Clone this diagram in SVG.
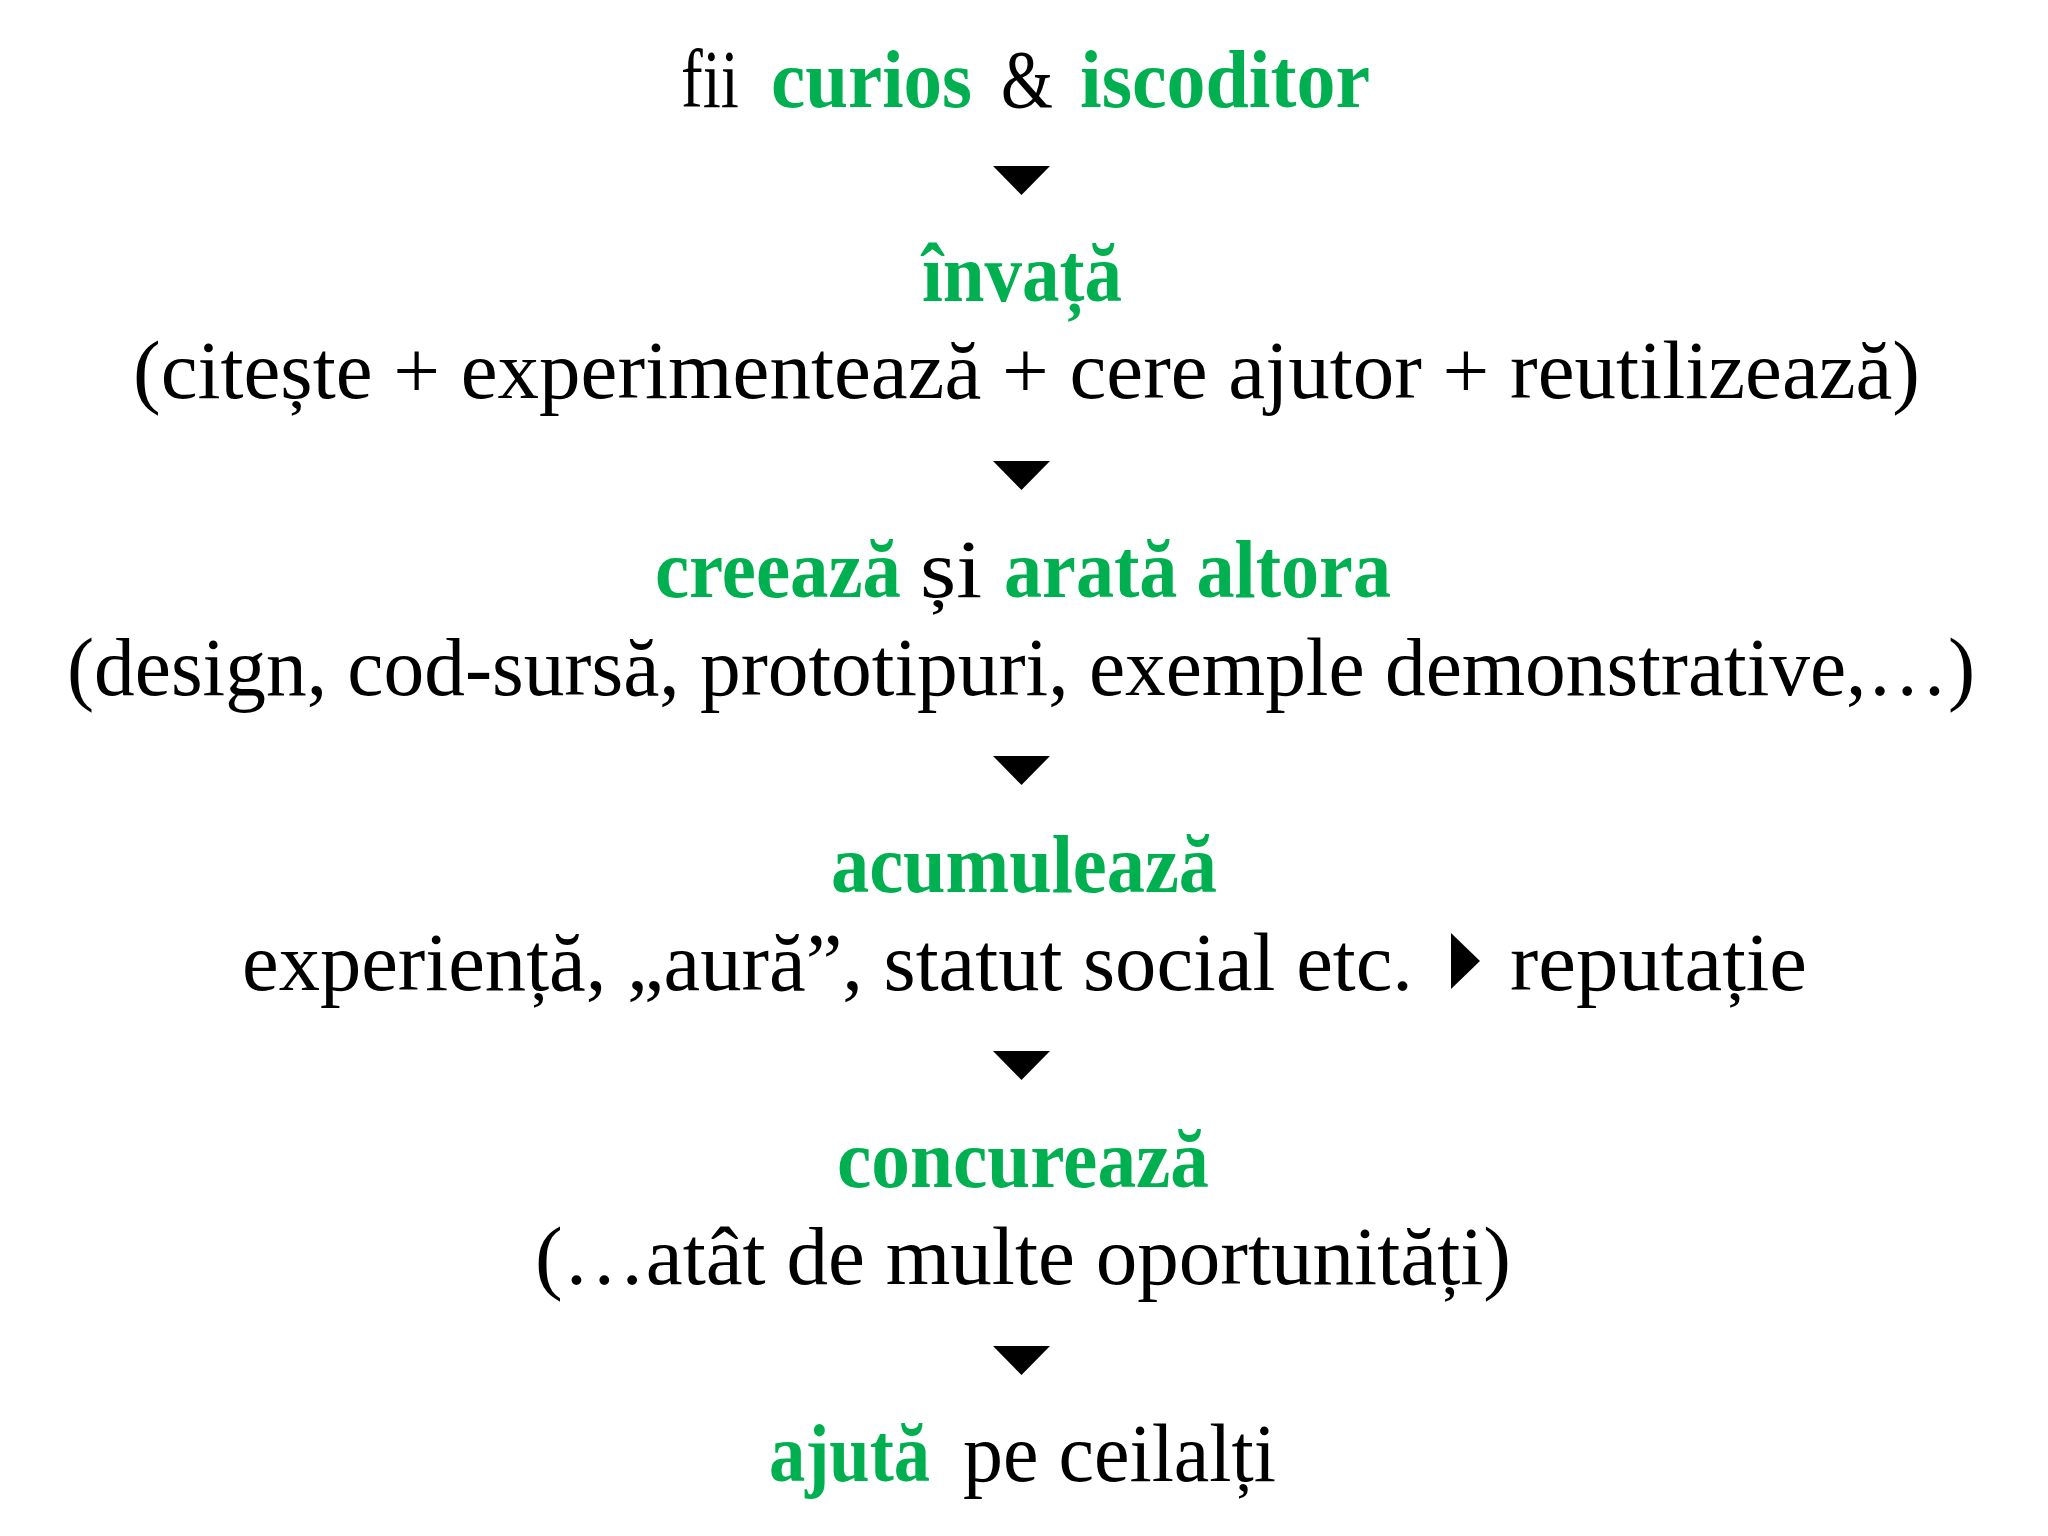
<svg xmlns="http://www.w3.org/2000/svg" xmlns:xlink="http://www.w3.org/1999/xlink" width="2048" height="1536" viewBox="0 0 2048 1536">
<style>
  .t { font-family: "Liberation Serif", "DejaVu Serif", serif; font-size: 82px; fill: #000000; }
  .g { font-weight: bold; fill: #00B050; }
  .arr { fill: #000000; }
</style>
<defs>
  <path id="down" d="M0,0 L57,0 L28.5,29 Z"/>
</defs>
<rect x="0" y="0" width="2048" height="1536" fill="#ffffff"/>

<g id="node-curios">
  <text class="t" x="681" y="107" textLength="58" lengthAdjust="spacingAndGlyphs">fii</text>
  <text class="t g" x="771" y="107" textLength="201" lengthAdjust="spacingAndGlyphs">curios</text>
  <text class="t" x="1001" y="107" textLength="52" lengthAdjust="spacingAndGlyphs">&amp;</text>
  <text class="t g" x="1080" y="107" textLength="290" lengthAdjust="spacingAndGlyphs">iscoditor</text>
</g>

<g id="node-invata">
  <text class="t g" x="922" y="301" textLength="200" lengthAdjust="spacingAndGlyphs">învață</text>
  <text class="t" x="133" y="398" textLength="1787" lengthAdjust="spacingAndGlyphs">(citește + experimentează + cere ajutor + reutilizează)</text>
</g>

<g id="node-creeaza">
  <text class="t g" x="655" y="597" textLength="246" lengthAdjust="spacingAndGlyphs">creează</text>
  <text class="t" x="920" y="597" textLength="62" lengthAdjust="spacingAndGlyphs">și</text>
  <text class="t g" x="1004" y="597" textLength="387" lengthAdjust="spacingAndGlyphs">arată altora</text>
  <text class="t" x="67" y="695" textLength="1908" lengthAdjust="spacingAndGlyphs">(design, cod-sursă, prototipuri, exemple demonstrative,…)</text>
</g>

<g id="node-acumuleaza">
  <text class="t g" x="831" y="892" textLength="386" lengthAdjust="spacingAndGlyphs">acumulează</text>
  <text class="t" x="242" y="990" textLength="1171" lengthAdjust="spacingAndGlyphs">experiență, „aură”, statut social etc.</text>
  <polygon class="arr" points="1451,933 1480,961 1451,989"/>
  <text class="t" x="1510" y="990" textLength="297" lengthAdjust="spacingAndGlyphs">reputație</text>
</g>

<g id="node-concureaza">
  <text class="t g" x="837" y="1187" textLength="372" lengthAdjust="spacingAndGlyphs">concurează</text>
  <text class="t" x="535" y="1284" textLength="976" lengthAdjust="spacingAndGlyphs">(…atât de multe oportunități)</text>
</g>

<g id="node-ajuta">
  <text class="t g" x="769" y="1481" textLength="161" lengthAdjust="spacingAndGlyphs">ajută</text>
  <text class="t" x="963" y="1481" textLength="313" lengthAdjust="spacingAndGlyphs">pe ceilalți</text>
</g>

<g id="connectors">
  <use xlink:href="#down" class="arr" x="993" y="166"/>
  <use xlink:href="#down" class="arr" x="993" y="461"/>
  <use xlink:href="#down" class="arr" x="993" y="756"/>
  <use xlink:href="#down" class="arr" x="993" y="1051"/>
  <use xlink:href="#down" class="arr" x="993" y="1346"/>
</g>
</svg>
